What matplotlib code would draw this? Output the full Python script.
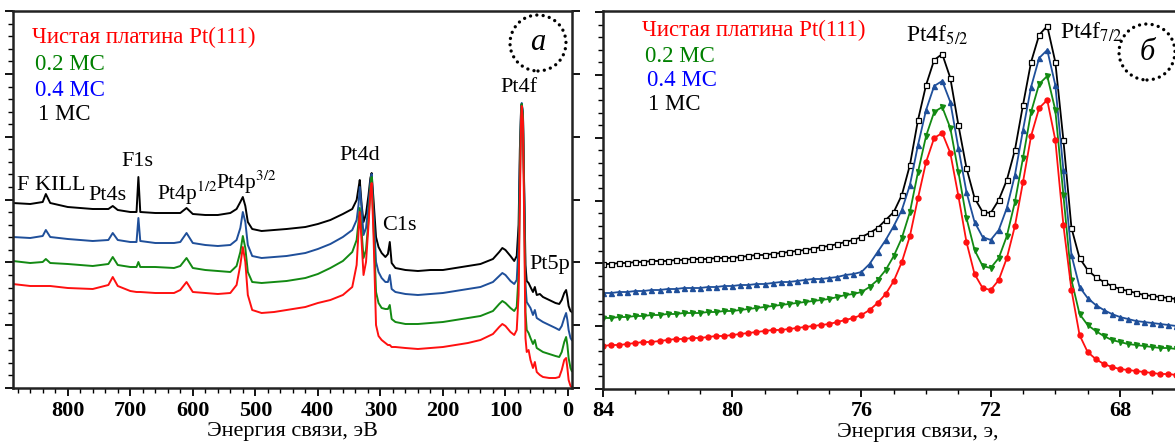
import numpy as np
import matplotlib
matplotlib.use('Agg')
import matplotlib.pyplot as plt
from matplotlib.patches import Ellipse
from matplotlib.ticker import MultipleLocator

plt.rcParams['font.family'] = ['Liberation Serif', 'DejaVu Serif']
plt.rcParams['mathtext.fontset'] = 'stix'

# ---- panel a: survey spectra (binding energy, eV / intensity, arb. units)
survey_e = [888, 860, 840, 835, 828, 800, 760, 735, 728, 720, 700, 690, 687, 684,
            660, 630, 620, 610, 600, 580, 560, 540, 530, 524, 520, 516, 512, 505,
            490, 470, 450, 420, 400, 380, 360, 345, 338, 335, 333, 330, 327, 323,
            319, 316, 314, 311, 307, 303, 298, 292, 288, 285, 282, 276, 260, 240,
            220, 200, 180, 160, 140, 120, 110, 105, 100, 92, 86, 82, 79, 77, 75,
            74, 72, 70, 68, 66, 63, 60, 56, 53, 50, 45, 40, 30, 20, 14, 10, 6, 3,
            1, -1, -4, -6]
survey_1ml = [185, 184, 186, 194, 185, 181, 179, 179, 182, 178, 176, 176, 211, 176,
              175, 175, 175, 180, 174, 173, 173, 175, 179, 186, 191, 182, 166, 159,
              157, 158, 159, 161, 164, 168, 174, 179, 188, 200, 208, 183, 166, 174,
              193, 210, 215, 188, 151, 141, 135, 131, 134, 146, 125, 120, 118, 117,
              118, 118, 120, 122, 124, 129, 136, 140, 138, 132, 127, 132, 163, 238, 280,
              284, 273, 198, 123, 107, 105, 101, 96, 101, 93, 94, 91, 88, 85, 84, 88, 95, 98,
              91, 82, 77, 76]
survey_04ml = [151, 150, 152, 158, 151, 149, 147, 148, 155, 148, 146, 146, 170, 147,
               145, 145, 146, 155, 145, 143, 142, 143, 148, 160, 176, 166, 143, 132,
               130, 131, 132, 135, 139, 144, 151, 158, 168, 183, 201, 180, 153, 160,
               183, 206, 214, 176, 126, 116, 110, 106, 106, 113, 99, 96, 94, 93,
               94, 95, 97, 99, 101, 106, 112, 115, 113, 107, 104, 108, 143, 223, 280,
               285, 275, 193, 103, 86, 83, 80, 73, 78, 70, 68, 66, 63, 60, 58, 62, 70, 75,
               68, 58, 50, 48]
survey_02ml = [127, 125, 126, 129, 125, 124, 122, 124, 131, 123, 121, 121, 126, 121,
               121, 120, 122, 130, 120, 118, 117, 116, 122, 136, 152, 140, 116, 106,
               105, 106, 107, 110, 114, 120, 127, 136, 148, 166, 180, 156, 130, 138,
               168, 200, 211, 163, 96, 85, 80, 79, 79, 83, 69, 66, 64, 64,
               65, 66, 68, 70, 72, 77, 84, 87, 85, 80, 77, 81, 113, 203, 276,
               284, 272, 183, 76, 58, 55, 50, 44, 48, 40, 38, 36, 34, 32, 31, 36, 46, 51,
               43, 30, 20, 17]
survey_pt = [104, 102, 102, 102, 102, 100, 99, 103, 111, 102, 97, 96, 96, 96,
             95, 95, 98, 106, 96, 95, 94, 95, 103, 123, 141, 126, 93, 78,
             75, 76, 78, 81, 85, 88, 93, 101, 123, 156, 176, 146, 113, 126,
             163, 196, 205, 153, 63, 52, 48, 45, 43, 43, 41, 41, 40, 39,
             40, 41, 43, 45, 48, 54, 61, 64, 62, 56, 53, 58, 93, 183, 270,
             282, 266, 163, 50, 36, 38, 28, 20, 26, 16, 13, 11, 10, 10, 11, 18, 28, 30,
             20, 8, 2, 1]
survey_ticks = [800, 700, 600, 500, 400, 300, 200, 100, 0]

# ---- panel b: Pt4f region, 0.25 eV step from 84 eV
core_e = np.arange(84, 66.2, -0.25)
core_1ml = [125, 125, 126, 126, 127, 127, 128, 128, 128, 129, 129, 130, 130, 130,
            131, 131, 131, 132, 133, 134, 134, 135, 136, 137, 138, 139, 140, 142,
            143, 145, 147, 149, 152, 156, 161, 169, 177, 194, 224, 269, 304, 329,
            335, 311, 264, 221, 191, 177, 176, 189, 209, 239, 284, 327, 354, 363,
            327, 249, 161, 131, 119, 112, 107, 103, 100, 98, 96, 94, 93, 92, 91, 90]
core_04ml = [96, 96, 97, 97, 98, 98, 99, 99, 100, 100, 101, 101, 101, 102,
             102, 103, 103, 104, 104, 105, 105, 106, 107, 107, 108, 109, 110, 110,
             111, 112, 114, 115, 117, 125, 137, 149, 163, 179, 204, 244, 279, 303,
             308, 287, 241, 197, 167, 152, 149, 159, 181, 214, 259, 302, 331, 339,
             304, 219, 134, 102, 91, 84, 79, 75, 72, 70, 68, 67, 66, 65, 64, 63]
core_02ml = [71, 71, 72, 72, 73, 73, 74, 74, 75, 75, 76, 76, 76, 77,
             77, 78, 78, 79, 80, 81, 82, 83, 84, 85, 86, 87, 88, 89,
             90, 92, 94, 95, 97, 102, 109, 119, 133, 151, 177, 217, 253, 277,
             282, 261, 217, 171, 139, 123, 121, 131, 153, 187, 231, 277, 305, 313,
             279, 194, 109, 75, 64, 58, 53, 49, 47, 45, 44, 43, 42, 41, 41, 40]
core_pt = [43, 44, 44, 45, 46, 47, 47, 48, 49, 50, 50, 51, 51, 52,
           53, 53, 54, 55, 56, 57, 58, 59, 59, 60, 61, 62, 63, 64,
           65, 67, 69, 71, 74, 79, 86, 95, 108, 127, 153, 191, 227, 251,
           256, 236, 193, 147, 115, 101, 99, 109, 131, 163, 207, 253, 281, 289,
           249, 164, 99, 54, 37, 30, 25, 22, 20, 19, 18, 17, 16, 15, 15, 14]
core_ticks = [84, 80, 76, 72, 68]

names = ['Чистая платина Pt(111)', '0.2 MC', '0.4 MC', '1 MC']
text_colors = ['#ff0000', '#008000', '#0000ff', 'black']

W, H = 1175, 443
fig = plt.figure(figsize=(W / 100, H / 100), dpi=100)
ax1 = fig.add_axes([12.7 / W, 1 - 388 / H, (572 - 12.7) / W, 377 / H])
ax2 = fig.add_axes([603 / W, 1 - 389 / H, (1233 - 603) / W, 378 / H])

c_black, c_blue, c_green, c_red = 'black', '#1f4f9a', '#138a13', '#ff1010'

ax1.plot(survey_e, survey_1ml, color=c_black, lw=1.4)
ax1.plot(survey_e, survey_04ml, color=c_blue, lw=1.4)
ax1.plot(survey_e, survey_02ml, color=c_green, lw=1.4)
ax1.plot(survey_e, survey_pt, color=c_red, lw=1.4)

ax2.plot(core_e, core_1ml, color=c_black, lw=1.3, marker='s', ms=3.6, mfc='white', mew=0.9)
ax2.plot(core_e, core_04ml, color=c_blue, lw=1.3, marker='^', ms=3.6)
ax2.plot(core_e, core_02ml, color=c_green, lw=1.3, marker='v', ms=3.6)
ax2.plot(core_e, core_pt, color=c_red, lw=1.3, marker='o', ms=3.6)

ax1.set_xlim(888, -6.4)
ax1.set_ylim(0, 377)
ax1.set_xticks(survey_ticks)
ax1.set_xticklabels([str(t) for t in survey_ticks], fontweight='bold', fontsize=16)
ax1.xaxis.set_minor_locator(MultipleLocator(20))
ax1.set_xlabel('Энергия связи, эВ', fontsize=16, labelpad=1)

ax2.set_xlim(84, 64.5)
ax2.set_ylim(0, 378)
ax2.set_xticks(core_ticks)
ax2.set_xticklabels([str(t) for t in core_ticks], fontweight='bold', fontsize=16)
ax2.xaxis.set_minor_locator(MultipleLocator(1))
ax2.set_xlabel('Энергия связи, э,', fontsize=16, labelpad=1)

for ax in (ax1, ax2):
    ax.yaxis.set_major_locator(MultipleLocator(62.8))
    ax.yaxis.set_minor_locator(MultipleLocator(12.56))
    ax.tick_params(which='both', direction='out', top=False)
    ax.tick_params(axis='y', left=True, right=(ax is ax1), labelleft=False)
    ax.tick_params(which='major', length=6, width=1.3, pad=3)
    ax.tick_params(which='minor', length=3.5, width=1.0)
    for s in ax.spines.values():
        s.set_linewidth(1.8)
        s.set_color('#222222')

# legends written as coloured text
for i, (n, c) in enumerate(zip(names, text_colors)):
    ys = [37, 65, 90, 114][i]
    xs = [32, 35, 35, 38][i]
    fig.text(xs / W, 1 - ys / H, n, color=c, fontsize=16.5, va='center', ha='left')
    ys = [30, 56, 80, 105][i]
    xs = [642, 645, 647, 648][i]
    fig.text(xs / W, 1 - ys / H, n, color=c, fontsize=16.5, va='center', ha='left')

# peak labels, panel a
lab = dict(fontsize=16, va='center')
ax1.text(827, 203, 'F KILL', ha='center', **lab)
ax1.text(736, 192, 'Pt4s', ha='center', **lab)
ax1.text(688, 226, 'F1s', ha='center', **lab)
ax1.text(657, 195, 'Pt4p$^{1/2}$', ha='left', fontsize=15.5, va='center')
ax1.text(563, 206, 'Pt4p$^{3/2}$', ha='left', fontsize=15.5, va='center')
ax1.text(333, 233, 'Pt4d', ha='center', **lab)
ax1.text(269, 162, 'C1s', ha='center', **lab)
ax1.text(78, 300, 'Pt4f', ha='center', **lab)
ax1.text(61, 123, 'Pt5p', ha='left', clip_on=False, **lab)

# peak labels, panel b
ax2.text(74.62, 354, 'Pt4f$_{5/2}$', ha='left', fontsize=17, va='center')
ax2.text(69.85, 357, 'Pt4f$_{7/2}$', ha='left', fontsize=17, va='center')

# dotted circles with panel letters
for (cx, cy, letter) in [(538, 43, 'а'), (1147, 52, 'б')]:
    e = Ellipse((cx / W, 1 - cy / H), 56 / W, 56 / H, transform=fig.transFigure,
                fill=False, color='black', lw=2.4, ls=(0, (0.01, 1.9)), capstyle='round')
    fig.add_artist(e)
    fig.text(cx / W, 1 - cy / H, letter, style='italic', fontsize=22,
             ha='center', va='center')

fig.savefig('out.png', dpi=100)
